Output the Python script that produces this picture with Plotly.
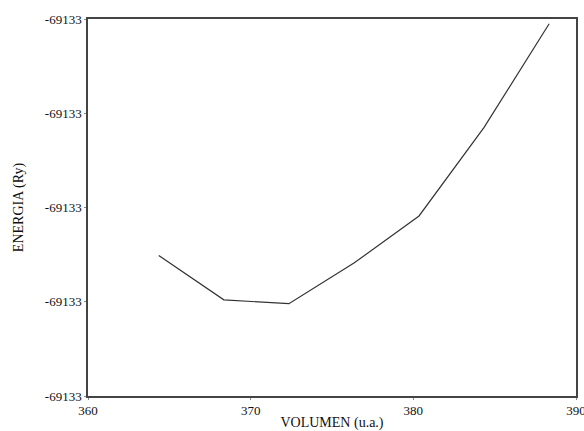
import plotly.graph_objects as go

# Energy vs. cell volume
volumen = [364.35, 368.35, 372.35, 376.35, 380.35, 384.35, 388.35]
energia = [-69133.251, -69133.298, -69133.302, -69133.259, -69133.209, -69133.115, -69133.005]

x_ticks = [360, 370, 380, 390]
y_ticks = [-69133.4, -69133.3, -69133.2, -69133.1, -69133.0]
y_tick_labels = ["-69133"] * len(y_ticks)

font_family = "Liberation Serif, Times New Roman, serif"
tick_font = dict(family=font_family, size=13, color="#111111")
title_font = dict(family=font_family, size=14, color="#111111")

fig = go.Figure(
    go.Scatter(
        x=volumen,
        y=energia,
        mode="lines",
        line=dict(color="#333333", width=1.2),
        showlegend=False,
    )
)

axis_common = dict(
    showgrid=False,
    zeroline=False,
    showline=True,
    linecolor="#444444",
    linewidth=1.5,
    mirror=True,
    ticks="outside",
    ticklen=2,
    tickcolor="#888888",
    tickfont=tick_font,
    ticklabeloverflow="allow",
    automargin=False,
)

fig.update_xaxes(
    range=[360, 390],
    tickvals=x_ticks,
    ticktext=[str(v) for v in x_ticks],
    title=dict(text="VOLUMEN (u.a.)", font=title_font, standoff=0),
    **axis_common,
)
fig.update_yaxes(
    range=[-69133.4, -69133.0],
    tickvals=y_ticks,
    ticktext=y_tick_labels,
    title=dict(text="ENERGIA (Ry)", font=title_font, standoff=18),
    **axis_common,
)

fig.update_layout(
    width=584,
    height=431,
    margin=dict(l=88, r=8, t=19, b=35),
    paper_bgcolor="white",
    plot_bgcolor="white",
)

fig.write_html("out.html")
